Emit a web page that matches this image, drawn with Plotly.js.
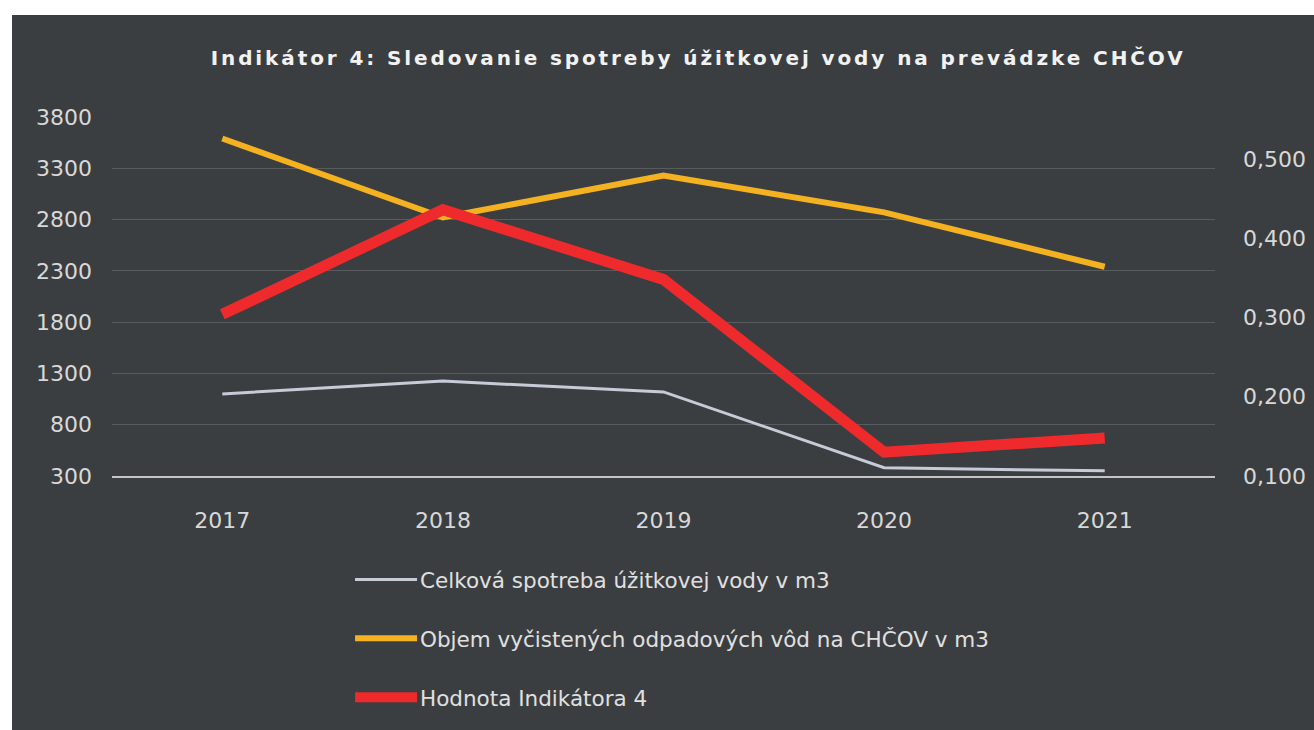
<!DOCTYPE html>
<html><head><meta charset="utf-8">
<script src="https://cdn.plot.ly/plotly-3.0.1.min.js"></script>
<style>
html,body{margin:0;padding:0;background:#ffffff;}
#chart{position:absolute;left:12px;top:15px;width:1302px;height:715px;}
#chart .gtitle{letter-spacing:2.9px;}
</style></head><body><div id="chart"></div>
<script>
const years = ['2017', '2018', '2019', '2020', '2021'];
const celkovaSpotreba = [1100, 1225, 1120, 380, 350];
const objemVycistenych = [3590, 2820, 3230, 2870, 2340];
const hodnotaIndikatora = [0.304, 0.436, 0.348, 0.130, 0.148];
const leftTickVals = [300, 800, 1300, 1800, 2300, 2800, 3300, 3800];
const rightTickVals = [0.1, 0.2, 0.3, 0.4, 0.5];
const seriesNames = [
  'Celková spotreba úžitkovej vody v m3',
  'Objem vyčistených odpadových vôd na CHČOV v m3',
  'Hodnota Indikátora 4'
];
const titleText = 'Indikátor 4: Sledovanie spotreby úžitkovej vody na prevádzke CHČOV';

const tickFont = {family: 'DejaVu Sans', size: 22, color: '#d8d8d8'};

const traces = [
  {x: years, y: celkovaSpotreba, name: seriesNames[0], type: 'scatter', mode: 'lines',
   line: {color: '#c6cbd8', width: 3}, legendgroup: 'a', yaxis: 'y'},
  {x: years, y: objemVycistenych, name: seriesNames[1], type: 'scatter', mode: 'lines',
   line: {color: '#f4b120', width: 6}, legendgroup: 'b', yaxis: 'y'},
  {x: years, y: hodnotaIndikatora, name: seriesNames[2], type: 'scatter', mode: 'lines',
   line: {color: '#ee2a2c', width: 11}, legendgroup: 'c', yaxis: 'y2'}
];

const layout = {
  width: 1302, height: 715,
  paper_bgcolor: '#3b3e40', plot_bgcolor: '#3b3e40',
  margin: {l: 100, r: 99, t: 102, b: 254},
  separators: ', ',
  title: {text: titleText, x: 0.527, xref: 'container', xanchor: 'center',
          y: 0.94, yref: 'container', yanchor: 'middle',
          font: {family: 'DejaVu Sans', size: 20, color: '#f2f2f2', weight: 'bold'}},
  xaxis: {type: 'category', range: [-0.5, 4.5], showgrid: false, zeroline: false,
          showline: true, linecolor: '#c4c4c4', linewidth: 2,
          tickfont: tickFont, ticks: '', ticklabelstandoff: 24},
  yaxis: {range: [300, 3800], tickvals: leftTickVals, showgrid: true, gridcolor: '#595c5f',
          gridwidth: 1, zeroline: false, showline: false, tickfont: tickFont,
          ticks: '', ticklabelstandoff: 19},
  yaxis2: {range: [0.1, 0.553], overlaying: 'y', side: 'right', tickvals: rightTickVals,
           tickformat: '.3f', showgrid: false, zeroline: false, showline: false,
           tickfont: tickFont, ticks: '', ticklabelstandoff: 27},
  showlegend: true,
  legend: {orientation: 'v', x: 0.2158, xanchor: 'left', y: -0.231, yanchor: 'top',
           bgcolor: 'rgba(0,0,0,0)', font: {family: 'DejaVu Sans', size: 21.5, color: '#e0e0e0'},
           tracegroupgap: 28, itemwidth: 60}
};

Plotly.newPlot('chart', traces, layout, {displayModeBar: false, staticPlot: true}).then(function (gd) {
  // lengthen the legend line samples to fill the wider item slot
  gd.querySelectorAll('.legend .legendlines path').forEach(function (p) {
    p.setAttribute('d', 'M5,0h62');
  });
});
</script></body></html>
